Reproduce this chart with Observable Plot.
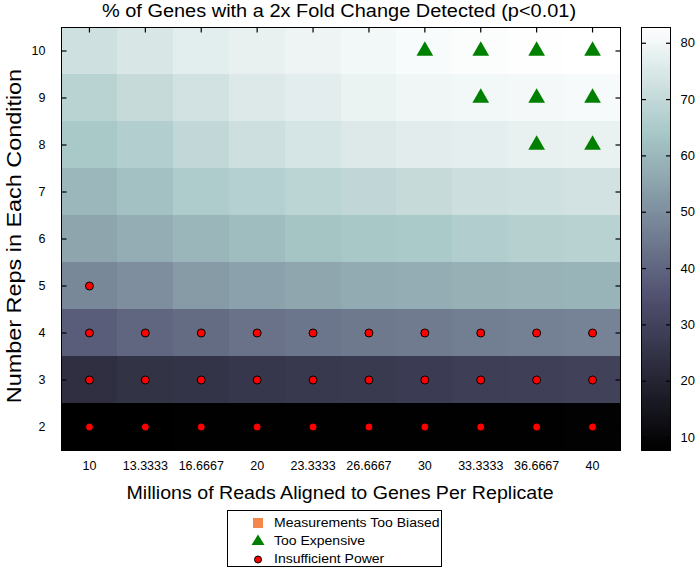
<!DOCTYPE html>
<html><head><meta charset="utf-8">
<script src="https://cdn.jsdelivr.net/npm/d3@7"></script>
<script src="https://cdn.jsdelivr.net/npm/@observablehq/plot@0.6"></script>
<style>
body{margin:0;background:#fff;font-family:"Liberation Sans",Arial,Helvetica,sans-serif;}
#root{position:relative;width:700px;height:575px;overflow:hidden;background:#fff;}
.abs{position:absolute;white-space:nowrap;color:#000;}
</style></head><body><div id="root"></div>
<script>
// ---- data ----
const readLabels = ["10","13.3333","16.6667","20","23.3333","26.6667","30","33.3333","36.6667","40"];
const repLabels = ["10","9","8","7","6","5","4","3","2"];
const rep10 = [72.4, 74.4, 76.6, 77.9, 79.1, 80.0, 81.3, 82.0, 82.5, 82.8];
const rep9  = [67.7, 70.5, 73.1, 75.5, 76.8, 78.5, 79.5, 80.0, 80.5, 81.0];
const rep8  = [64.3, 66.2, 69.6, 72.0, 73.8, 75.5, 76.5, 77.0, 77.8, 78.2];
const rep7  = [60.0, 62.5, 65.5, 66.9, 68.2, 69.5, 70.5, 71.8, 72.5, 73.2];
const rep6  = [55.5, 57.5, 59.8, 61.3, 63.3, 64.0, 64.5, 66.0, 67.0, 67.5];
const rep5  = [48.5, 50.0, 53.0, 54.5, 55.8, 56.8, 57.6, 58.3, 58.8, 59.2];
const rep4  = [38.0, 40.0, 41.5, 43.0, 43.8, 44.7, 45.3, 46.2, 46.7, 47.3];
const rep3  = [23.5, 24.7, 25.3, 26.0, 26.5, 27.0, 27.7, 28.5, 29.0, 29.5];
const rep2  = [7.7, 7.8, 7.9, 8.0, 8.0, 8.1, 8.1, 8.2, 8.2, 8.3];
const tooExpensive = [["30","10"],["33.3333","10"],["36.6667","10"],["40","10"],
                      ["33.3333","9"],["36.6667","9"],["40","9"],
                      ["36.6667","8"],["40","8"]];
const insufficientPower = [["10","5"],
  ["10","4"],["13.3333","4"],["16.6667","4"],["20","4"],["23.3333","4"],["26.6667","4"],["30","4"],["33.3333","4"],["36.6667","4"],["40","4"],
  ["10","3"],["13.3333","3"],["16.6667","3"],["20","3"],["23.3333","3"],["26.6667","3"],["30","3"],["33.3333","3"],["36.6667","3"],["40","3"],
  ["10","2"],["13.3333","2"],["16.6667","2"],["20","2"],["23.3333","2"],["26.6667","2"],["30","2"],["33.3333","2"],["36.6667","2"],["40","2"]];
const colorTicks = [10,20,30,40,50,60,70,80];
const colorDomain = [7.7, 82.8];
const legendItems = ["Measurements Too Biased","Too Expensive","Insufficient Power"];

// ---- build table ----
const rows = {"10":rep10,"9":rep9,"8":rep8,"7":rep7,"6":rep6,"5":rep5,"4":rep4,"3":rep3,"2":rep2};
const cells = [];
for (const r of repLabels) rows[r].forEach((v,i)=>cells.push({reads:readLabels[i], rep:r, value:v}));

// MATLAB "bone" colormap
function bone(t){
  t = Math.max(0, Math.min(1, t));
  const lerp=(pts)=>{for(let i=1;i<pts.length;i++){if(t<=pts[i][0]){const [a,va]=pts[i-1],[b,vb]=pts[i];return va+(vb-va)*(t-a)/(b-a);}}return pts[pts.length-1][1];};
  const r=lerp([[0,0],[0.746032,0.652778],[1,1]]);
  const g=lerp([[0,0],[0.365079,0.319444],[0.746032,0.777778],[1,1]]);
  const b=lerp([[0,0],[0.365079,0.444444],[1,1]]);
  return `rgb(${Math.round(r*255)},${Math.round(g*255)},${Math.round(b*255)})`;
}
const colorOpts = {type:"linear", domain:colorDomain, interpolate: bone, clamp:true};
const font = '"Liberation Sans", Arial, Helvetica, sans-serif';

// inward tick symbols (short line segments)
const tk = (dx, dy) => ({draw(ctx){ ctx.moveTo(0,0); ctx.lineTo(dx,dy); }});
const TL = 5;
const tickUp = tk(0,-TL), tickDown = tk(0,TL), tickRight = tk(TL,0), tickLeft = tk(-TL,0);
const tickStyle = {stroke:"#000", fill:"none", strokeWidth:1.2};

const root = document.getElementById("root");

// ---- main heatmap ----
const main = Plot.plot({
  width: 640, height: 500,
  marginLeft: 61, marginRight: 20, marginTop: 27, marginBottom: 50,
  style: {fontFamily: font, fontSize: "12px", background: "transparent", overflow: "visible", color: "#000"},
  x: {type:"band", domain: readLabels, padding: 0, round: false, label: null},
  y: {type:"band", domain: repLabels, padding: 0, round: false, label: null},
  color: colorOpts,
  marks: [
    Plot.cell(cells, {x:"reads", y:"rep", fill:"value", inset:0, shapeRendering:"crispEdges"}),
    Plot.axisX({anchor:"bottom", tickSize:0, tickPadding:11, label:null, fontSize:12.5}),
    Plot.axisY({anchor:"left", tickSize:0, tickPadding:16, label:null, fontSize:12.5}),
    Plot.dot(readLabels, {x:d=>d, frameAnchor:"bottom", symbol:tickUp, ...tickStyle}),
    Plot.dot(readLabels, {x:d=>d, frameAnchor:"top", symbol:tickDown, ...tickStyle}),
    Plot.dot(repLabels, {y:d=>d, frameAnchor:"left", symbol:tickRight, ...tickStyle}),
    Plot.dot(repLabels, {y:d=>d, frameAnchor:"right", symbol:tickLeft, ...tickStyle}),
    Plot.dot(tooExpensive, {x:d=>d[0], y:d=>d[1], symbol:"triangle", r:6.2, fill:"#008000", stroke:"none"}),
    Plot.dot(insufficientPower, {x:d=>d[0], y:d=>d[1], r:4, fill:"#ff0000", stroke:"#000", strokeWidth:1}),
    Plot.frame({stroke:"#000", strokeWidth:1})
  ]
});
main.classList.add("abs");
main.style.left="0px"; main.style.top="0px";
root.appendChild(main);

// ---- colorbar ----
const N = 200;
const steps = d3.range(N).map(i=>{
  const a = colorDomain[0] + (colorDomain[1]-colorDomain[0])*i/N;
  const b = colorDomain[0] + (colorDomain[1]-colorDomain[0])*(i+1)/N;
  return [a,b];
});
const cb = Plot.plot({
  width: 80, height: 500,
  marginLeft: 21, marginRight: 30, marginTop: 27, marginBottom: 50,
  style: {fontFamily: font, fontSize: "13px", background: "transparent", overflow: "visible", color: "#000"},
  x: {domain:[0,1], axis:null},
  y: {domain: colorDomain, axis:null},
  color: colorOpts,
  marks: [
    Plot.rect(steps, {x1:0, x2:1, y1:d=>d[0], y2:d=>d[1], fill:d=>(d[0]+d[1])/2, shapeRendering:"crispEdges"}),
    Plot.dot(colorTicks, {y:d=>d, frameAnchor:"left", symbol:tk(4.5,0), ...tickStyle}),
    Plot.dot(colorTicks, {y:d=>d, frameAnchor:"right", symbol:tk(-4.5,0), ...tickStyle}),
    Plot.axisY(colorTicks, {anchor:"right", tickSize:0, tickPadding:10, label:null, fontSize:13}),
    Plot.frame({stroke:"#000", strokeWidth:1})
  ]
});
cb.classList.add("abs");
cb.style.left="620px"; cb.style.top="0px";
root.appendChild(cb);

// ---- titles ----
function addText(txt, css){
  const d=document.createElement("div"); d.className="abs"; d.textContent=txt;
  Object.assign(d.style, css); root.appendChild(d); return d;
}
addText("% of Genes with a 2x Fold Change Detected (p<0.01)", {left:"339px", top:"1px", fontSize:"17.5px", transform:"translateX(-50%) scaleX(1.14)"});
addText("Millions of Reads Aligned to Genes Per Replicate", {left:"340px", top:"483px", fontSize:"17.5px", transform:"translateX(-50%) scaleX(1.12)"});
addText("Number Reps in Each Condition", {left:"14px", top:"236px", fontSize:"19.5px", transform:"translate(-50%,-50%) rotate(-90deg) scaleX(1.2)"});

// ---- legend ----
const leg = document.createElement("div");
leg.className="abs";
Object.assign(leg.style,{left:"227px", top:"510px", width:"215px", height:"57px", border:"1px solid #000", boxSizing:"border-box", background:"#fff"});
root.appendChild(leg);
const ns="http://www.w3.org/2000/svg";
const symSvg = document.createElementNS(ns,"svg");
symSvg.setAttribute("width","30"); symSvg.setAttribute("height","56");
symSvg.style.position="absolute"; symSvg.style.left="16px"; symSvg.style.top="0px";
symSvg.innerHTML = `<rect x="9" y="7" width="10" height="10" fill="#f4874b"/>
<path d="M14,23.5 L20.5,34 L7.5,34 Z" fill="#008000"/>
<circle cx="14" cy="48.5" r="3.5" fill="#ff0000" stroke="#000" stroke-width="1"/>`;
leg.appendChild(symSvg);
legendItems.forEach((t,i)=>{
  const d=document.createElement("div"); d.className="abs"; d.textContent=t;
  Object.assign(d.style,{left:"46px", top:(5+i*18)+"px", fontSize:"12.5px", lineHeight:"15px", transform:"scaleX(1.12)", transformOrigin:"0 50%"});
  leg.appendChild(d);
});
</script></body></html>
